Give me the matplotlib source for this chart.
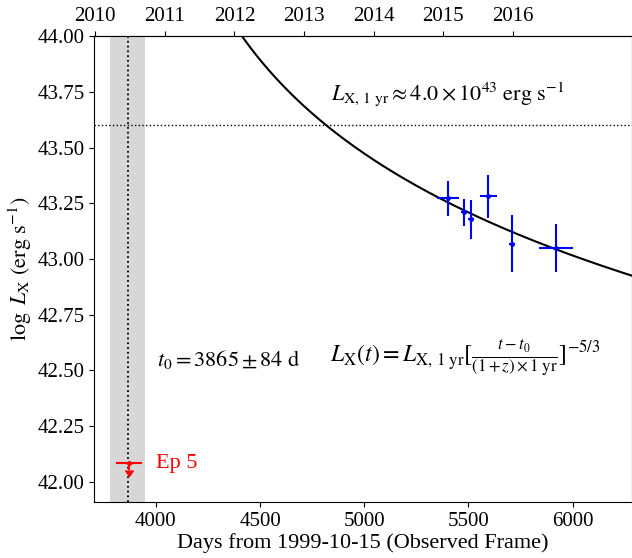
import numpy as np
import matplotlib
matplotlib.use("Agg")
from matplotlib import pyplot as plt

plt.rcParams["font.family"] = ["Liberation Serif", "DejaVu Serif"]
plt.rcParams["mathtext.fontset"] = "stix"

# observed epochs (days from 1999-10-15), log L_X and errors
days = np.array([5404, 5478, 5513, 5596, 5708, 5919])
days_err = np.array([53, 13, 14, 41, 14, 82])
log_lx = np.array([43.272, 43.209, 43.178, 43.281, 43.069, 43.048])
log_lx_err = np.array([0.078, 0.062, 0.087, 0.096, 0.129, 0.107])

# Ep 5 upper limit
ep5_day = 3871
ep5_day_err = 62
ep5_lim = 42.084

# fit parameters
t0 = 3865
t0_err = 84
log_l1yr = np.log10(4.0e43)
redshift = 1.6

# top axis: year ticks
years = [2010, 2011, 2012, 2013, 2014, 2015, 2016]
year0_day = 3709
days_per_year = 334

fig = plt.figure(figsize=(6.32, 5.58), dpi=100)
ax = fig.add_axes([0.149, 0.1004, 0.851, 0.835])

ax.axvspan(t0 - t0_err, t0 + t0_err, color="lightgray", alpha=0.9, lw=0)
ax.axvline(t0, color="k", ls=":", lw=1.3)
ax.axhline(log_l1yr, color="k", ls=":", lw=1.0)

t = np.linspace(t0 + 1, 6400, 2000)
model = log_l1yr - 5 / 3 * np.log10((t - t0) / ((1 + redshift) * 365.25))
ax.plot(t, model, color="k", lw=1.5)

ax.errorbar(days, log_lx, xerr=days_err, yerr=log_lx_err, fmt=".", color="b",
            ms=5, lw=1.5, capsize=0)
ax.errorbar(ep5_day, ep5_lim, xerr=ep5_day_err, fmt=".", color="r",
            ms=5, lw=1.5, capsize=0)
ax.errorbar(ep5_day, ep5_lim, yerr=0.03, uplims=True, fmt="none", color="r",
            lw=1.5, capsize=3)
ax.text(ep5_day + 130, ep5_lim, "Ep 5", color="r", fontsize=16, va="center")

ax.text(4005, 42.55, r"$t_0 = 3865 \pm 84\ {\rm d}$", fontsize=16, va="center")
ax.text(4838, 42.55,
        r"$L_{\rm X}(t) = L_{\rm X,\,1\ yr}[\frac{t-t_0}{(1+z)\times 1\ {\rm yr}}]^{-5/3}$",
        fontsize=17.2, va="center")
ax.text(4840, 43.74, r"$L_{\rm X,\,1\ yr} \approx 4.0\times10^{43}\ {\rm erg\ s^{-1}}$",
        fontsize=16, va="center")

ax.set_xlim(3704, 6285)
ax.set_ylim(41.91, 44.0)
ax.set_xticks([4000, 4500, 5000, 5500, 6000])
ax.set_yticks(np.arange(42.0, 44.01, 0.25))
ax.yaxis.set_major_formatter(matplotlib.ticker.FormatStrFormatter("%.2f"))
ax.tick_params(labelsize=15)
ax.set_xlabel("Days from 1999-10-15 (Observed Frame)", fontsize=16, labelpad=2)
ax.set_ylabel(r"$\log\ L_{\rm X}\ ({\rm erg\ s^{-1}})$", fontsize=16, labelpad=2)

top = ax.secondary_xaxis("top", functions=(
    lambda d: (d - year0_day) / days_per_year + years[0],
    lambda y: (y - years[0]) * days_per_year + year0_day))
top.set_xticks(years)
top.tick_params(labelsize=15)

fig.savefig("out.png", dpi=100)
